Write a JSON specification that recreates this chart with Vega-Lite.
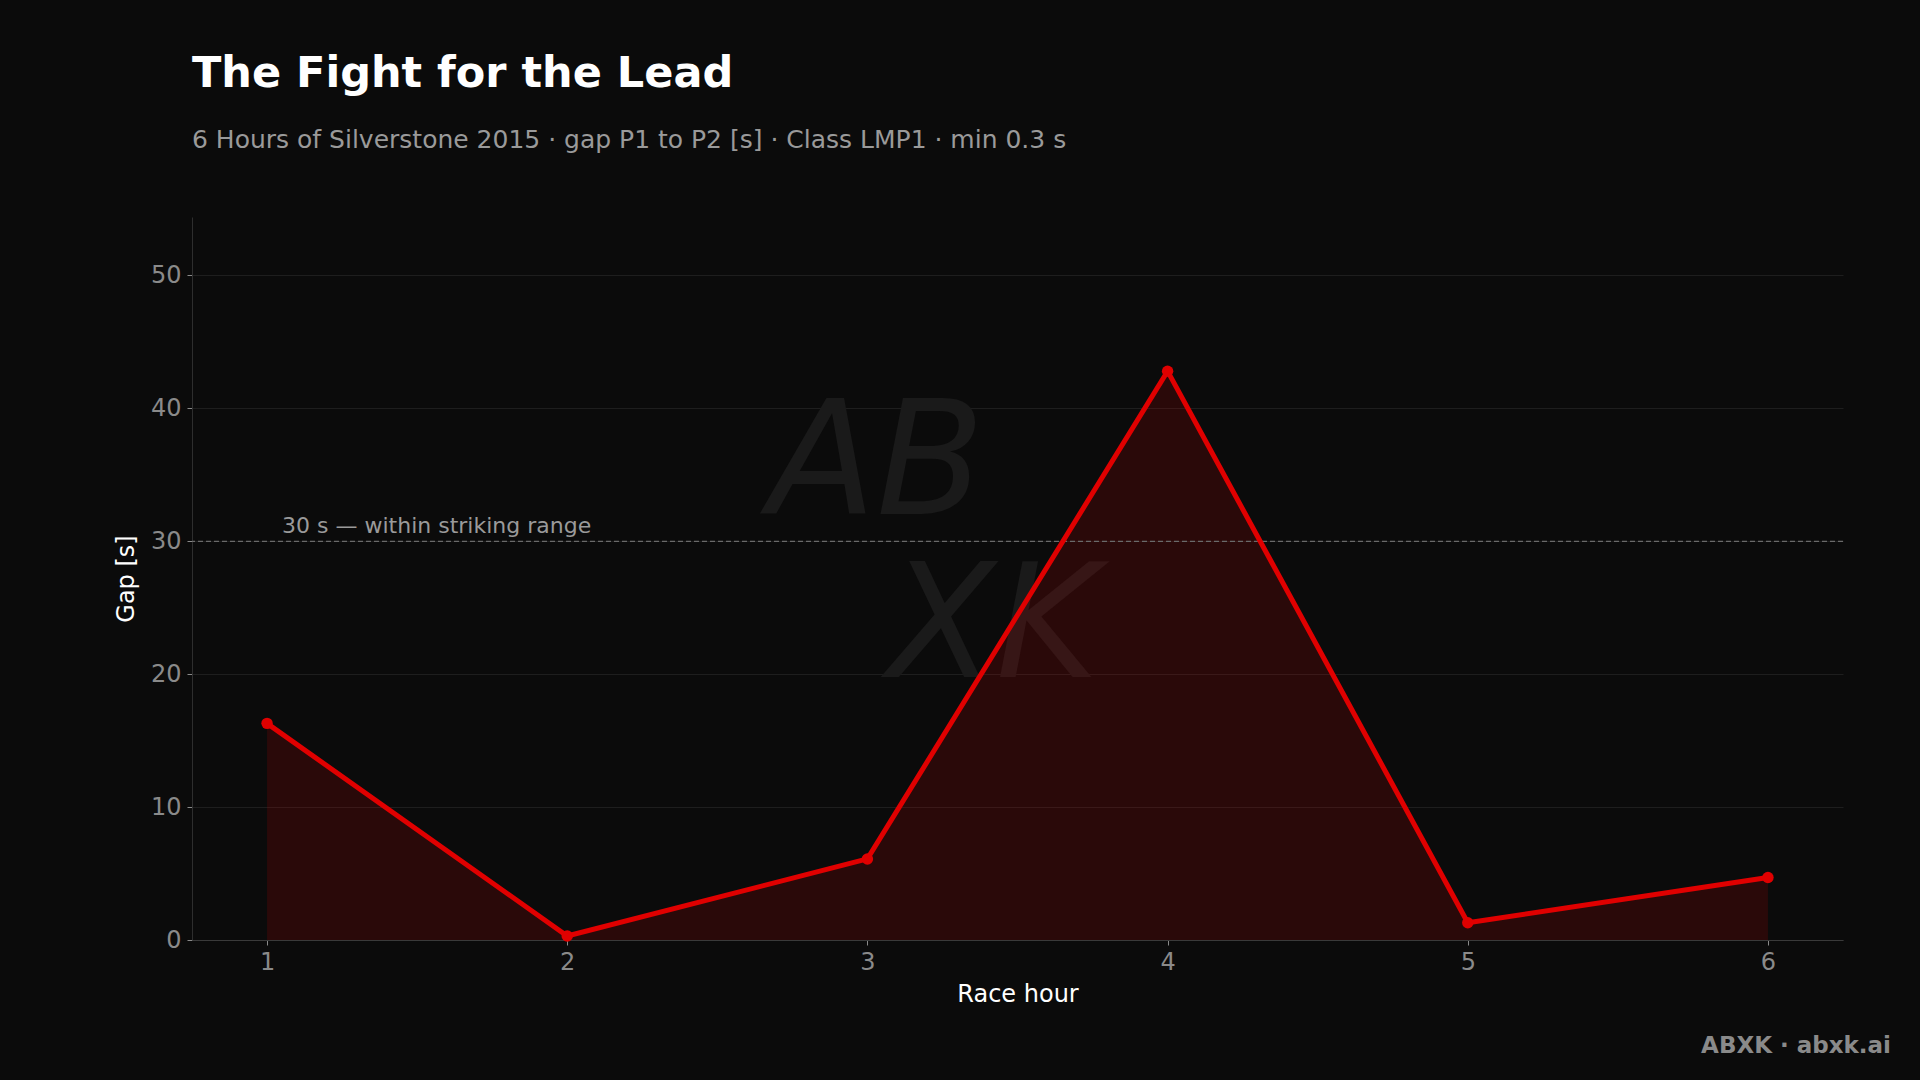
{
  "$schema": "https://vega.github.io/schema/vega-lite/v6.json",
  "width": 1651,
  "height": 723,
  "autosize": {"type": "none"},
  "padding": {"left": 192, "top": 217, "right": 77, "bottom": 140},
  "background": "#0b0b0b",
  "config": {
    "view": {"stroke": null},
    "font": "DejaVu Sans",
    "axis": {
      "labelFont": "DejaVu Sans",
      "titleFont": "DejaVu Sans",
      "labelColor": "#8a8a8a",
      "titleColor": "#ffffff",
      "labelFontSize": 24,
      "titleFontSize": 24,
      "titleFontWeight": "normal",
      "domainColor": "#2e2e2e",
      "tickColor": "#8a8a8a",
      "tickSize": 5,
      "gridColor": "#1e1e1e",
      "gridWidth": 1
    }
  },
  "title": {
    "text": "The Fight for the Lead",
    "subtitle": "6 Hours of Silverstone 2015 · gap P1 to P2 [s] · Class LMP1 · min 0.3 s",
    "anchor": "start",
    "frame": "group",
    "font": "DejaVu Sans",
    "fontSize": 43,
    "fontWeight": "bold",
    "color": "#ffffff",
    "subtitleFont": "DejaVu Sans",
    "subtitleFontSize": 25,
    "subtitleColor": "#9a9a9a",
    "subtitlePadding": 32,
    "offset": 64
  },
  "data": {
    "values": [
      {"hour": 1, "gap": 16.3},
      {"hour": 2, "gap": 0.3},
      {"hour": 3, "gap": 6.1},
      {"hour": 4, "gap": 42.8},
      {"hour": 5, "gap": 1.3},
      {"hour": 6, "gap": 4.7}
    ]
  },
  "layer": [
    {
      "data": {"values": [{"t": "AB"}]},
      "mark": {"type": "text", "font": "DejaVu Sans", "fontWeight": 200, "fontStyle": "italic", "fontSize": 158, "color": "#1a1a1a", "align": "center", "baseline": "middle"},
      "encoding": {"x": {"datum": 3.03, "type": "quantitative"}, "y": {"datum": 35.6, "type": "quantitative"}, "text": {"field": "t"}}
    },
    {
      "data": {"values": [{"t": "XK"}]},
      "mark": {"type": "text", "font": "DejaVu Sans", "fontWeight": 200, "fontStyle": "italic", "fontSize": 158, "color": "#1a1a1a", "align": "center", "baseline": "middle"},
      "encoding": {"x": {"datum": 3.42, "type": "quantitative"}, "y": {"datum": 23.3, "type": "quantitative"}, "text": {"field": "t"}}
    },
    {
      "mark": {"type": "area", "color": "#e00000", "opacity": 0.15},
      "encoding": {
        "x": {
          "field": "hour",
          "type": "quantitative",
          "scale": {"domain": [0.75, 6.25], "nice": false, "zero": false},
          "axis": {"title": "Race hour", "values": [1, 2, 3, 4, 5, 6], "grid": false, "domainColor": "#3a3a3a", "labelPadding": 5, "titlePadding": 8, "format": "d"}
        },
        "y": {
          "field": "gap",
          "type": "quantitative",
          "scale": {"domain": [0, 54.4], "nice": false},
          "axis": {"title": "Gap [s]", "values": [0, 10, 20, 30, 40, 50], "grid": true, "labelPadding": 6, "titlePadding": 12}
        }
      }
    },
    {
      "data": {"values": [{"y": 30, "label": "30 s — within striking range"}]},
      "layer": [
        {
          "mark": {"type": "rule", "color": "#6a6a6a", "strokeDash": [5, 3], "strokeWidth": 1.2},
          "encoding": {"y": {"field": "y", "type": "quantitative"}}
        },
        {
          "mark": {"type": "text", "color": "#9a9a9a", "fontSize": 22, "align": "left", "baseline": "bottom", "dy": -3},
          "encoding": {"x": {"datum": 1.05, "type": "quantitative"}, "y": {"field": "y", "type": "quantitative"}, "text": {"field": "label"}}
        }
      ]
    },
    {
      "mark": {"type": "line", "color": "#e00000", "strokeWidth": 5, "point": {"filled": true, "size": 130, "color": "#e00000"}},
      "encoding": {
        "x": {"field": "hour", "type": "quantitative"},
        "y": {"field": "gap", "type": "quantitative"}
      }
    },
    {
      "data": {"values": [{"t": "ABXK · abxk.ai"}]},
      "mark": {"type": "text", "color": "#8a8a8a", "fontSize": 23, "fontWeight": "bold", "align": "right", "baseline": "alphabetic"},
      "encoding": {
        "x": {"value": {"expr": "width + 48"}},
        "y": {"value": {"expr": "height + 113"}},
        "text": {"field": "t"}
      }
    }
  ]
}
